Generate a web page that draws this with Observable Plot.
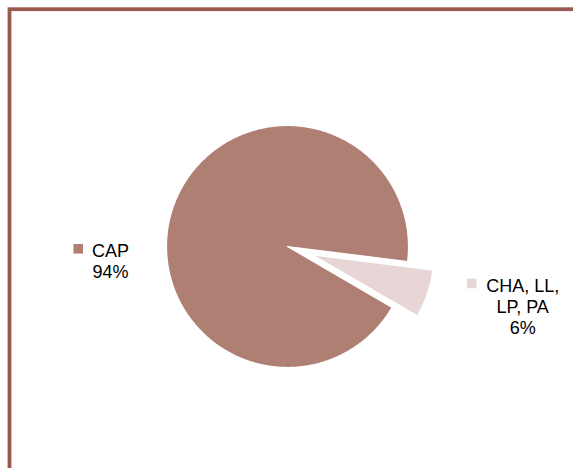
<!DOCTYPE html>
<html><head><meta charset="utf-8">
<script src="https://cdn.jsdelivr.net/npm/d3@7"></script>
<script src="https://cdn.jsdelivr.net/npm/@observablehq/plot@0.6"></script>
<style>body{margin:0;background:#fff;} #chart svg{display:block;}</style>
</head><body><div id="chart"></div>
<script>
// ---- data ----
const categories = ["CAP", "CHA, LL,\nLP, PA"];
const values = [93.6, 6.4];
const colors = ["#b07f74", "#e8d5d5"];

// ---- layout ----
const W = 573, H = 468, R = 121, CX = 287, CY = 246;
const START = 120.2 * Math.PI / 180;
const EXPLODE = [0, 0.22];

const pie = d3.pie().sort(null).startAngle(START).endAngle(START + 2 * Math.PI);
const arcs = pie(values);
const total = d3.sum(values);
const pts = [], labels = [];
arcs.forEach((a, i) => {
  const mid = (a.startAngle + a.endAngle) / 2;
  const e = EXPLODE[i];
  const ox = e * Math.sin(mid), oy = e * Math.cos(mid);
  pts.push({k: i, x: ox, y: oy});
  const n = Math.ceil((a.endAngle - a.startAngle) / (Math.PI / 360));
  for (let j = 0; j <= n; j++) {
    const t = a.startAngle + (a.endAngle - a.startAngle) * j / n;
    pts.push({k: i, x: ox + Math.sin(t), y: oy + Math.cos(t)});
  }
  pts.push({k: i, x: ox, y: oy});
  labels.push({k: i, x: ox + 1.5 * Math.sin(mid), y: oy + 1.5 * Math.cos(mid),
    text: categories[i] + "\n" + Math.round(values[i] / total * 100) + "%"});
});

const font = "'Liberation Sans', Arial, sans-serif";
const labelOffsets = [{dx: -5, dy: 72.4}, {dx: 38, dy: -7}];
const swatchOffsets = [{dx: -32.3, dy: -12}, {dx: -51, dy: -22.7}];

const marks = [
  Plot.frame({stroke: "#985a50", strokeWidth: 3.8, insetLeft: 9, insetTop: 8.7, insetRight: -30, insetBottom: -30})
];
arcs.forEach((a, i) => {
  marks.push(Plot.line(pts.filter(d => d.k === i), {x: "x", y: "y", fill: colors[i], stroke: "white", strokeWidth: 1.2, curve: "linear"}));
});
labels.forEach((l, i) => {
  marks.push(Plot.text([l], {x: "x", y: "y", text: "text", fontSize: 18, fontFamily: font, fill: "#000",
    lineHeight: 1.19, textAnchor: "middle", lineAnchor: "middle", dx: labelOffsets[i].dx, dy: labelOffsets[i].dy}));
  marks.push(Plot.dot([l], {x: "x", y: "y", symbol: "square", r: 5.4, fill: colors[i], stroke: "none",
    dx: labelOffsets[i].dx + swatchOffsets[i].dx, dy: labelOffsets[i].dy + swatchOffsets[i].dy}));
});

const chart = Plot.plot({
  width: W, height: H,
  margin: 0,
  x: {domain: [-CX / R, (W - CX) / R], axis: null},
  y: {domain: [-(H - CY) / R, CY / R], axis: null},
  style: {background: "#fff", fontFamily: font},
  marks
});
document.getElementById("chart").appendChild(chart);
</script>
</body></html>
